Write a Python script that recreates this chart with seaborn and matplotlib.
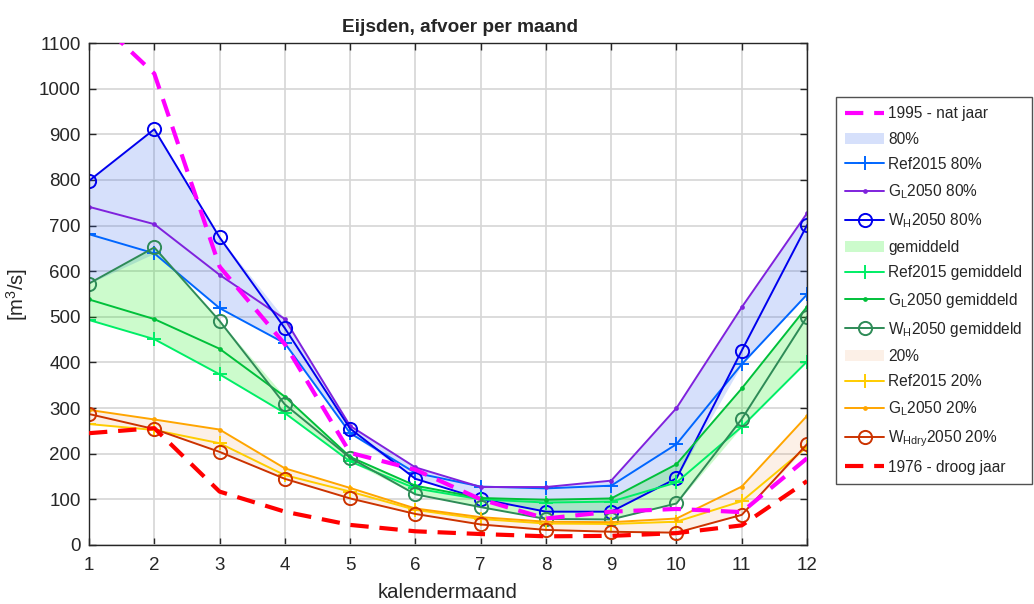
import numpy as np
import pandas as pd
import matplotlib
matplotlib.use("Agg")
import matplotlib.pyplot as plt
import seaborn as sns

# Monthly discharge at Eijsden (m3/s)
months = list(range(1, 13))

q1995_nat = [1168, 1033, 610, 440, 202, 165, 100, 58, 73, 79, 72, 190]

ref2015_80 = [681, 639, 519, 442, 245, 158, 128, 124, 130, 221, 396, 549]
gl2050_80 = [741, 703, 592, 495, 261, 170, 127, 127, 141, 300, 521, 727]
wh2050_80 = [798, 911, 674, 475, 255, 145, 101, 73, 73, 146, 426, 701]

ref2015_gem = [493, 451, 374, 289, 183, 124, 100, 93, 95, 137, 259, 402]
gl2050_gem = [538, 495, 430, 325, 193, 130, 103, 99, 102, 177, 343, 522]
wh2050_gem = [573, 652, 491, 308, 191, 111, 83, 57, 56, 91, 276, 500]

ref2015_20 = [265, 252, 223, 153, 117, 77, 57, 47, 46, 51, 96, 215]
gl2050_20 = [296, 275, 253, 168, 125, 80, 61, 51, 50, 58, 128, 283]
whdry2050_20 = [287, 254, 204, 145, 102, 68, 45, 33, 29, 27, 66, 221]

q1976_droog = [245, 256, 117, 73, 44, 30, 24, 19, 20, 26, 43, 140]

# Band limits
band80_hi = [798, 911, 674, 495, 261, 172, 128, 128, 141, 300, 521, 727]
band80_lo = [573, 639, 519, 442, 245, 145, 101, 73, 73, 146, 396, 549]
bandgem_hi = [573, 652, 491, 325, 193, 130, 103, 99, 102, 177, 343, 522]
bandgem_lo = [493, 451, 374, 289, 183, 111, 83, 57, 56, 91, 259, 402]
band20_hi = [296, 275, 253, 168, 125, 80, 61, 51, 50, 58, 128, 283]
band20_lo = [265, 252, 204, 145, 102, 68, 45, 33, 29, 27, 66, 215]

xticks = months
yticks = list(range(0, 1101, 100))

sns.set_style("ticks")
plt.rcParams["font.family"] = ["Liberation Sans", "DejaVu Sans"]
plt.rcParams["mathtext.fontset"] = "custom"
plt.rcParams["mathtext.rm"] = "Liberation Sans"

fig = plt.figure(figsize=(10.34, 6.04), dpi=100)
ax = fig.add_axes([0.0861, 0.0977, 0.6944, 0.8311])

df = pd.DataFrame({"maand": months})


def band(lo, hi, color, alpha):
    return ax.fill_between(months, lo, hi, color=color, alpha=alpha,
                           linewidth=0, zorder=1)


def line(values, color, marker=None, ms=8, mew=1.4, lw=1.4, dashed=False, z=2):
    kws = dict(color=color, linewidth=lw, zorder=z)
    if marker is not None:
        kws.update(marker=marker, markersize=ms, markeredgewidth=mew,
                   markeredgecolor=color)
        if marker == "o":
            kws["markerfacecolor"] = "none"
        else:
            kws["markerfacecolor"] = color
    sns.lineplot(data=df.assign(q=values), x="maand", y="q", ax=ax, **kws)
    ln = ax.lines[-1]
    if dashed:
        ln.set_linestyle((0, (4.4, 2.6)))
        ln.set_dash_capstyle("butt")
    return ln


p80 = band(band80_lo, band80_hi, "#3366ee", 0.2)
pgem = band(bandgem_lo, bandgem_hi, "#00ee00", 0.2)
p20 = band(band20_lo, band20_hi, "#f09a5a", 0.14)

l_ref80 = line(ref2015_80, "#0066ff", marker="+", ms=10)
l_gl80 = line(gl2050_80, "#7f22dd", marker=".", ms=4)
l_wh80 = line(wh2050_80, "#0000ee", marker="o", ms=9.5)

l_refgem = line(ref2015_gem, "#00ee66", marker="+", ms=10)
l_glgem = line(gl2050_gem, "#00c03a", marker=".", ms=4)
l_whgem = line(wh2050_gem, "#2e8b57", marker="o", ms=9.5)

l_ref20 = line(ref2015_20, "#ffcc00", marker="+", ms=10)
l_gl20 = line(gl2050_20, "#ffa500", marker=".", ms=4)
l_whdry = line(whdry2050_20, "#cc3300", marker="o", ms=9.5)

l_1995 = line(q1995_nat, "#ff00ff", lw=3.0, dashed=True, z=3)
l_1976 = line(q1976_droog, "#ff0000", lw=3.0, dashed=True, z=3)

ax.set_xlim(1, 12)
ax.set_ylim(0, 1100)
ax.set_xticks(xticks)
ax.set_yticks(yticks)
ax.tick_params(direction="in", top=True, right=True, length=5, width=1,
               labelsize=13.5, colors="#262626", labelcolor="#262626")
ax.tick_params(axis="x", pad=9)
ax.tick_params(axis="y", pad=6)
ax.grid(True, color="#d6d6d6", linewidth=1.2)
ax.set_axisbelow(True)
for s in ax.spines.values():
    s.set_visible(True)
    s.set_color("#262626")
    s.set_linewidth(1.0)

ax.set_title("Eijsden, afvoer per maand", fontsize=13.7, fontweight="bold",
             pad=8, x=0.516)
ax.set_xlabel("kalendermaand", fontsize=14.6, color="#262626", labelpad=6)
ax.set_ylabel(r"[m$^3$/s]", fontsize=14.6, color="#262626", labelpad=6)

labels = [
    "1995 - nat jaar",
    "80%",
    "Ref2015 80%",
    r"G$_\mathrm{L}$2050 80%",
    r"W$_\mathrm{H}$2050 80%",
    "gemiddeld",
    "Ref2015 gemiddeld",
    r"G$_\mathrm{L}$2050 gemiddeld",
    r"W$_\mathrm{H}$2050 gemiddeld",
    "20%",
    "Ref2015 20%",
    r"G$_\mathrm{L}$2050 20%",
    r"W$_\mathrm{Hdry}$2050 20%",
    "1976 - droog jaar",
]
hs = [l_1995, p80, l_ref80, l_gl80, l_wh80, pgem, l_refgem, l_glgem,
      l_whgem, p20, l_ref20, l_gl20, l_whdry, l_1976]

leg = fig.legend(hs, labels, loc="upper left",
                 bbox_to_anchor=(0.8085, 0.8394), frameon=True,
                 fancybox=False, edgecolor="#262626", fontsize=11.2,
                 handlelength=2.5, handletextpad=0.25, labelspacing=0.66,
                 borderpad=0.6, borderaxespad=0, numpoints=1)
leg.get_frame().set_linewidth(1.0)

fig.savefig("out.png", dpi=100)
